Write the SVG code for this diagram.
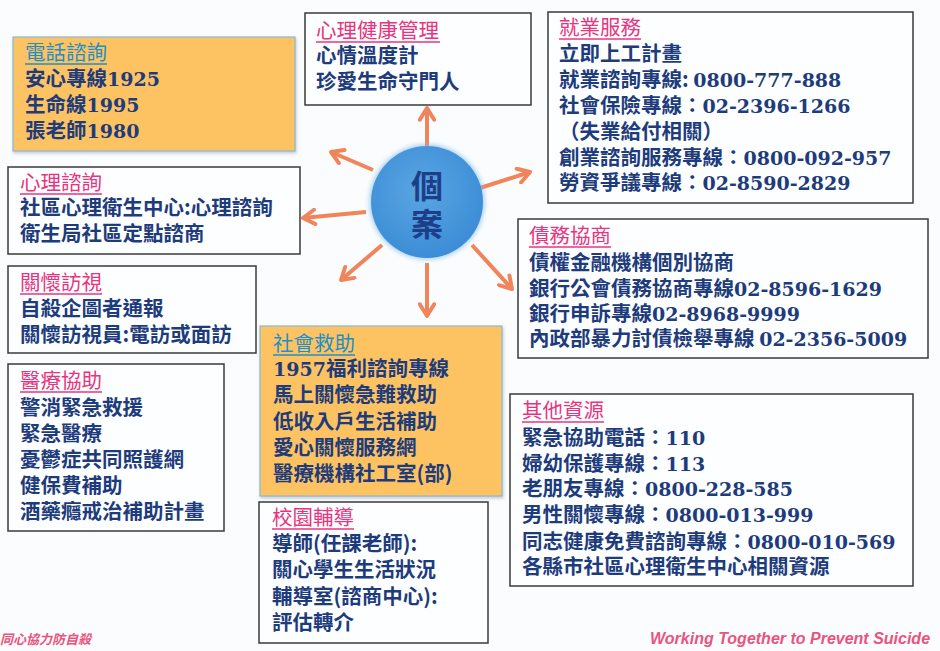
<svg xmlns="http://www.w3.org/2000/svg" width="940" height="651" viewBox="0 0 940 651">
<defs>
<style>
.t{font-family:"Noto Sans CJK TC","Noto Sans CJK SC",sans-serif;font-size:20.5px;font-weight:700;fill:#1e3c7c}
.n{font-family:"DejaVu Serif","Liberation Serif",serif;font-size:19px;font-weight:700}
.h{font-family:"Noto Sans CJK TC","Noto Sans CJK SC",sans-serif;font-size:20.5px;font-weight:400;fill:#e8347e}
.hb{fill:#1f8fc9}
.ul{stroke:#e8347e;stroke-width:1.5}
.ulb{stroke:#1f8fc9}
.box{fill:#fdfeff;stroke:#3a3a3a;stroke-width:1.5}
.obox{fill:#fdc262;stroke:#8ab8d8;stroke-width:1.2;filter:url(#sh)}
.arr{stroke:#f0845a;stroke-width:4;fill:none;marker-end:url(#ah)}
.foot{font-style:italic;fill:#e9547e}
</style>
<marker id="ah" viewBox="0 0 10 10" refX="8.5" refY="5" markerWidth="18" markerHeight="18" markerUnits="userSpaceOnUse" orient="auto">
<path d="M2,1 L8.5,5 L2,9" fill="none" stroke="#f0845a" stroke-width="2.2" stroke-linecap="round" stroke-linejoin="round"/>
</marker>
<radialGradient id="cg" cx="0.45" cy="0.4" r="0.6">
<stop offset="0" stop-color="#5aa6e3"/>
<stop offset="1" stop-color="#3c8dd6"/>
</radialGradient>
<filter id="sh" x="-10%" y="-10%" width="120%" height="125%">
<feDropShadow dx="1" dy="2" stdDeviation="1.5" flood-color="#8aa0b8" flood-opacity="0.5"/>
</filter>
<filter id="glow" x="-20%" y="-20%" width="140%" height="140%">
<feGaussianBlur stdDeviation="2"/>
</filter>
</defs>
<rect width="940" height="651" fill="#fbfcfd"/>

<g id="connectors">
<line class="arr" x1="427" y1="146" x2="427" y2="108"/>
<line class="arr" x1="373" y1="170" x2="331" y2="152"/>
<line class="arr" x1="366" y1="212" x2="303" y2="218"/>
<line class="arr" x1="382" y1="245" x2="341" y2="280"/>
<line class="arr" x1="427" y1="263" x2="427" y2="316"/>
<line class="arr" x1="472" y1="245" x2="512" y2="289"/>
<line class="arr" x1="480" y1="188" x2="530" y2="172"/>
</g>

<g id="center">
<circle cx="427" cy="202" r="58" fill="#7fbbea" opacity="0.6" filter="url(#glow)"/>
<circle cx="427" cy="202" r="56" fill="url(#cg)"/>
<text x="427" y="198" text-anchor="middle" font-family="Noto Sans CJK TC, sans-serif" font-size="32" font-weight="700" fill="#1d3f8a">個</text>
<text x="427" y="236" text-anchor="middle" font-family="Noto Sans CJK TC, sans-serif" font-size="32" font-weight="700" fill="#1d3f8a">案</text>
</g>

<g id="phone">
<rect class="obox" x="13" y="37" width="282" height="114"/>
<text class="h hb" x="25" y="60">電話諮詢</text>
<line class="ul ulb" x1="25" y1="64" x2="107" y2="64"/>
<text class="t" x="25" y="86">安心專線<tspan class="n">1925</tspan></text>
<text class="t" x="25" y="112">生命線<tspan class="n">1995</tspan></text>
<text class="t" x="25" y="138">張老師<tspan class="n">1980</tspan></text>
</g>

<g id="counsel">
<rect class="box" x="8" y="167" width="292" height="87"/>
<text class="h" x="20" y="190">心理諮詢</text>
<line class="ul" x1="20" y1="194" x2="102" y2="194"/>
<text class="t" x="20" y="215">社區心理衛生中心:心理諮詢</text>
<text class="t" x="20" y="241">衛生局社區定點諮商</text>
</g>

<g id="visit">
<rect class="box" x="8" y="266" width="248" height="87"/>
<text class="h" x="20" y="290">關懷訪視</text>
<line class="ul" x1="20" y1="294" x2="102" y2="294"/>
<text class="t" x="20" y="316">自殺企圖者通報</text>
<text class="t" x="20" y="342">關懷訪視員:電訪或面訪</text>
</g>

<g id="medical">
<rect class="box" x="8" y="364" width="216" height="167"/>
<text class="h" x="20" y="388">醫療協助</text>
<line class="ul" x1="20" y1="392" x2="102" y2="392"/>
<text class="t" x="20" y="415">警消緊急救援</text>
<text class="t" x="20" y="441">緊急醫療</text>
<text class="t" x="20" y="467">憂鬱症共同照護網</text>
<text class="t" x="20" y="493">健保費補助</text>
<text class="t" x="20" y="519">酒藥癮戒治補助計畫</text>
</g>

<g id="mental">
<rect class="box" x="305" y="13" width="226" height="92"/>
<text class="h" x="316" y="38">心理健康管理</text>
<line class="ul" x1="316" y1="42" x2="440" y2="42"/>
<text class="t" x="316" y="63">心情溫度計</text>
<text class="t" x="316" y="89">珍愛生命守門人</text>
</g>

<g id="employment">
<rect class="box" x="548" y="12" width="365" height="191"/>
<text class="h" x="559" y="35">就業服務</text>
<line class="ul" x1="559" y1="39" x2="641" y2="39"/>
<text class="t" x="559" y="61">立即上工計畫</text>
<text class="t" x="559" y="87">就業諮詢專線: <tspan class="n">0800-777-888</tspan></text>
<text class="t" x="559" y="113">社會保險專線：<tspan class="n">02-2396-1266</tspan></text>
<text class="t" x="559" y="139">（失業給付相關）</text>
<text class="t" x="559" y="165">創業諮詢服務專線：<tspan class="n">0800-092-957</tspan></text>
<text class="t" x="559" y="190">勞資爭議專線：<tspan class="n">02-8590-2829</tspan></text>
</g>

<g id="debt">
<rect class="box" x="518" y="219" width="410" height="139"/>
<text class="h" x="529" y="243">債務協商</text>
<line class="ul" x1="529" y1="247" x2="611" y2="247"/>
<text class="t" x="529" y="270">債權金融機構個別協商</text>
<text class="t" x="529" y="296">銀行公會債務協商專線<tspan class="n">02-8596-1629</tspan></text>
<text class="t" x="529" y="321">銀行申訴專線<tspan class="n">02-8968-9999</tspan></text>
<text class="t" x="529" y="346">內政部暴力討債檢舉專線 <tspan class="n">02-2356-5009</tspan></text>
</g>

<g id="welfare">
<rect class="obox" x="260" y="326" width="242" height="170"/>
<text class="h hb" x="273" y="351">社會救助</text>
<line class="ul ulb" x1="273" y1="355" x2="355" y2="355"/>
<text class="t" x="273" y="376"><tspan class="n">1957</tspan>福利諮詢專線</text>
<text class="t" x="273" y="402">馬上關懷急難救助</text>
<text class="t" x="273" y="429">低收入戶生活補助</text>
<text class="t" x="273" y="455">愛心關懷服務網</text>
<text class="t" x="273" y="481">醫療機構社工室(部)</text>
</g>

<g id="campus">
<rect class="box" x="259" y="502" width="229" height="141"/>
<text class="h" x="272" y="525">校園輔導</text>
<line class="ul" x1="272" y1="529" x2="354" y2="529"/>
<text class="t" x="272" y="551">導師(任課老師):</text>
<text class="t" x="272" y="577">關心學生生活狀況</text>
<text class="t" x="272" y="604">輔導室(諮商中心):</text>
<text class="t" x="272" y="630">評估轉介</text>
</g>

<g id="other">
<rect class="box" x="510" y="394" width="403" height="192"/>
<text class="h" x="522" y="418">其他資源</text>
<line class="ul" x1="522" y1="422" x2="604" y2="422"/>
<text class="t" x="522" y="445">緊急協助電話：<tspan class="n">110</tspan></text>
<text class="t" x="522" y="471">婦幼保護專線：<tspan class="n">113</tspan></text>
<text class="t" x="522" y="496">老朋友專線：<tspan class="n">0800-228-585</tspan></text>
<text class="t" x="522" y="522">男性關懷專線：<tspan class="n">0800-013-999</tspan></text>
<text class="t" x="522" y="549">同志健康免費諮詢專線：<tspan class="n">0800-010-569</tspan></text>
<text class="t" x="522" y="574">各縣市社區心理衛生中心相關資源</text>
</g>

<text class="foot" x="0" y="644" font-family="Noto Sans CJK TC, sans-serif" font-size="13" font-weight="700">同心協力防自殺</text>
<text class="foot" x="650" y="644" font-family="Liberation Sans, Arial, sans-serif" font-size="16" font-weight="700">Working Together to Prevent Suicide</text>
</svg>
